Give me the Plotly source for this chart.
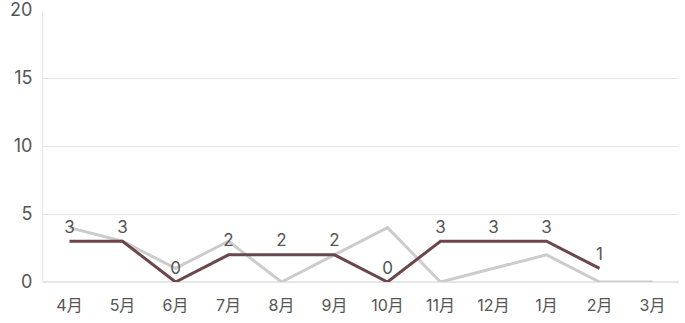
import plotly.graph_objects as go

months = ["4月", "5月", "6月", "7月", "8月", "9月", "10月", "11月", "12月", "1月", "2月", "3月"]
prev_year = [4, 3, 1, 3, 0, 2, 4, 0, 1, 2, 0, 0]
this_year = [3, 3, 0, 2, 2, 2, 0, 3, 3, 3, 1]

font_family = "Inter, Noto Sans CJK JP, sans-serif"

fig = go.Figure()
fig.add_trace(go.Scatter(
    x=months, y=prev_year, mode="lines",
    line=dict(color="#cccccc", width=3),
    showlegend=False, hoverinfo="skip",
))
fig.add_trace(go.Scatter(
    x=months[:len(this_year)], y=this_year, mode="lines+markers+text",
    line=dict(color="#6b474b", width=3),
    marker=dict(size=5, color="rgba(0,0,0,0)"),
    text=[str(v) for v in this_year], textposition="top center",
    textfont=dict(size=17, color="#555555", family=font_family),
    showlegend=False,
))

fig.update_layout(
    width=685, height=323,
    margin=dict(l=43, r=6, t=10, b=41, autoexpand=False),
    paper_bgcolor="white", plot_bgcolor="white",
    font=dict(family=font_family, color="#555555", size=15),
)
fig.update_xaxes(
    type="category", range=[-0.5, 11.5], showgrid=False, ticks="",
    tickfont=dict(size=16), showline=False, zeroline=False,
    ticklabelstandoff=12,
)
fig.update_yaxes(
    range=[0, 20], tickvals=[0, 5, 10, 15, 20], showgrid=True,
    gridcolor="#e6e6e6", gridwidth=1, zeroline=True, zerolinecolor="#e6e6e6",
    showline=True, linecolor="#e6e6e6", linewidth=1,
    tickfont=dict(size=18), ticks="", ticklen=0, ticklabeloverflow="allow",
    ticklabelstandoff=6,
)

fig.write_html("out.html")
